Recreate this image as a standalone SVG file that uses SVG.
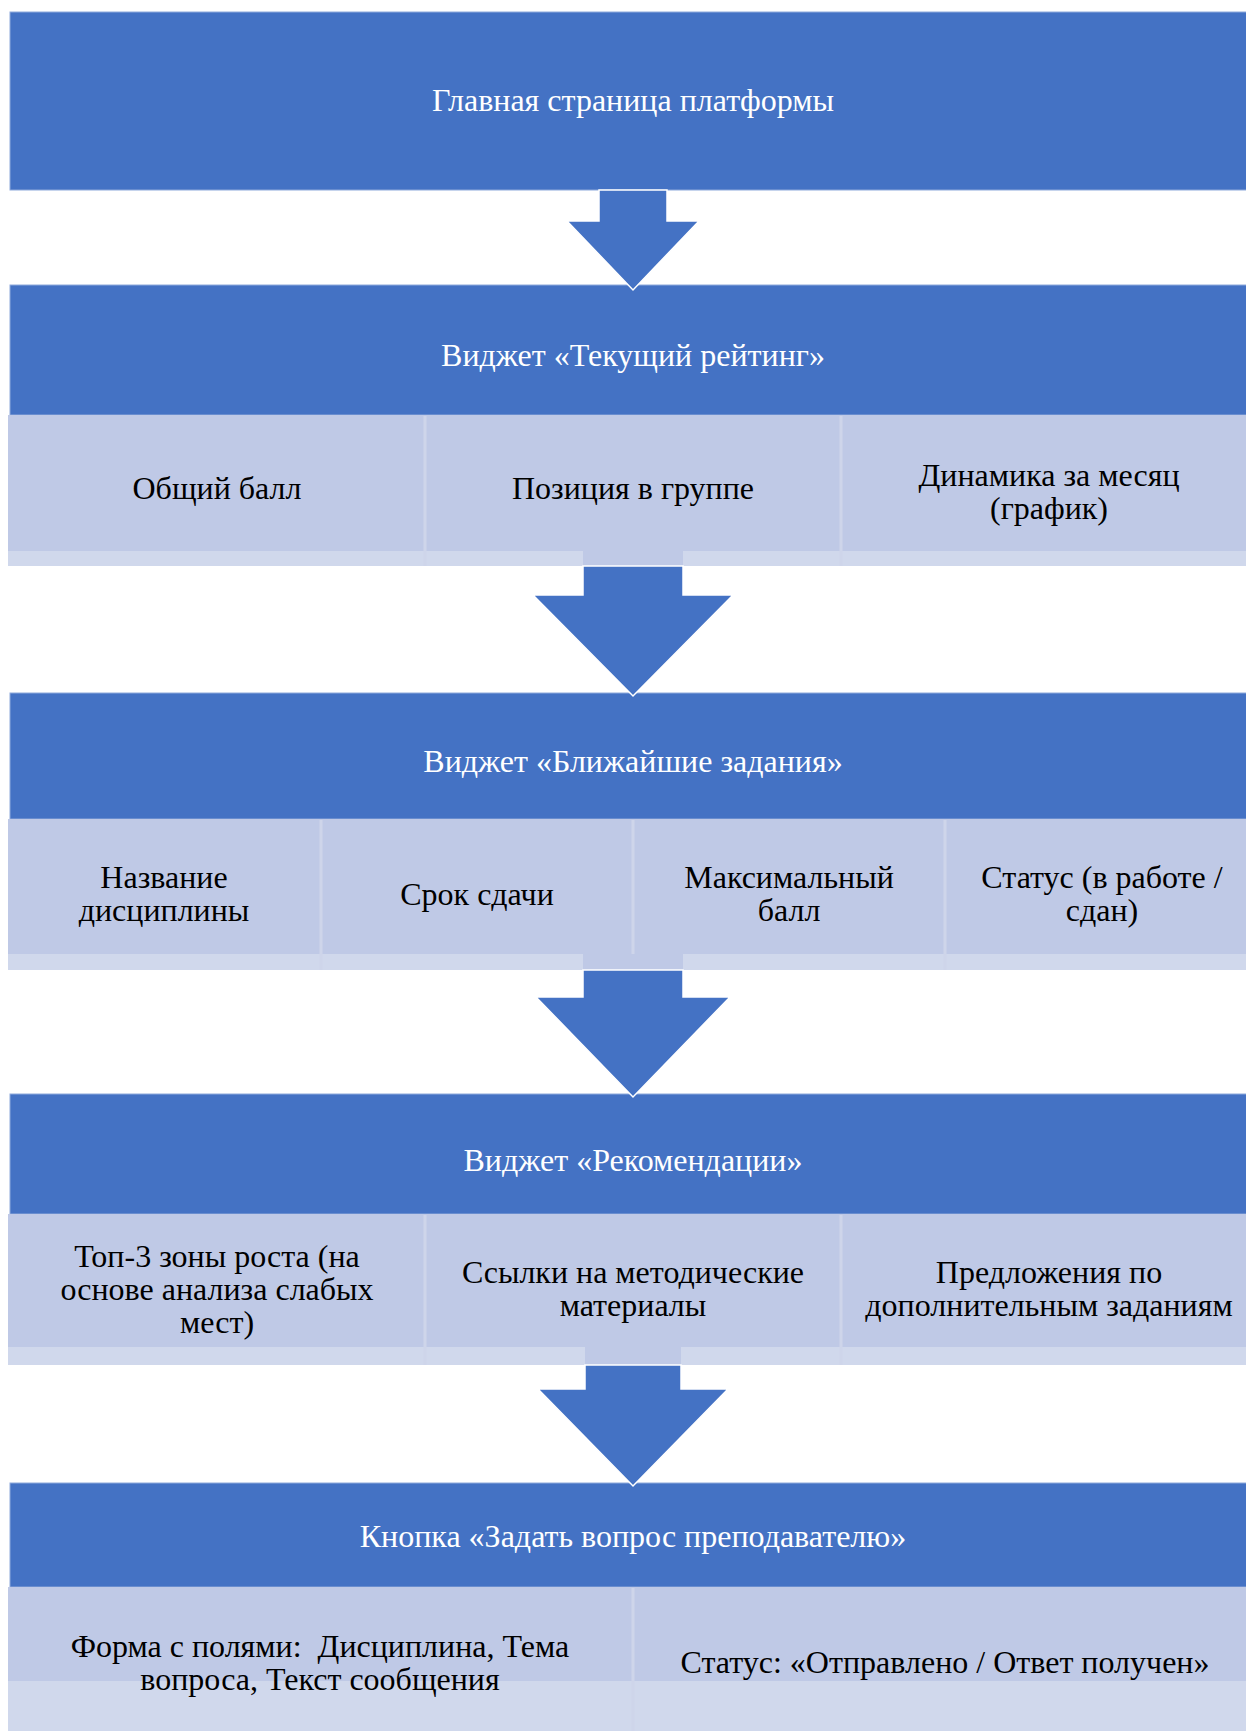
<svg xmlns="http://www.w3.org/2000/svg" width="1246" height="1731" viewBox="0 0 1246 1731">
<style>
.hdr{fill:#4472C4;stroke:#8EA9DB;stroke-width:1}
.cell{fill:#BFC9E6}
.strip{fill:#D0D8EC}
.div{stroke:#CED5EA;stroke-width:3}
.arr{fill:#4472C4;stroke:#FFFFFF;stroke-width:1.5}
.ht{font-family:"Liberation Serif","Times New Roman",serif;font-size:32px;fill:#FFFFFF;text-anchor:middle}
.ct{font-family:"Liberation Serif","Times New Roman",serif;font-size:32px;fill:#000000;text-anchor:middle}
</style>
<rect width="1246" height="1731" fill="#FFFFFF"/>
<g id="main">
<rect class="hdr" x="10" y="12" width="1250" height="178"/>
<text class="ht" x="633" y="111">Главная страница платформы</text>
</g>
<g id="rating">
<rect class="hdr" x="10" y="285" width="1250" height="130"/>
<text class="ht" x="633" y="366">Виджет «Текущий рейтинг»</text>
<rect class="cell" x="8" y="415" width="1250" height="136"/>
<rect class="strip" x="8" y="551" width="1250" height="15"/>
<line class="div" x1="425" y1="416" x2="425" y2="566"/>
<line class="div" x1="841" y1="416" x2="841" y2="566"/>
<text class="ct" x="217" y="499">Общий балл</text>
<text class="ct" x="633" y="499">Позиция в группе</text>
<text class="ct" x="1049" y="486">Динамика за месяц</text>
<text class="ct" x="1049" y="519">(график)</text>
</g>
<g id="tasks">
<rect class="hdr" x="10" y="693" width="1250" height="126"/>
<text class="ht" x="633" y="772">Виджет «Ближайшие задания»</text>
<rect class="cell" x="8" y="819" width="1250" height="135"/>
<rect class="strip" x="8" y="954" width="1250" height="16"/>
<line class="div" x1="321" y1="820" x2="321" y2="970"/>
<line class="div" x1="633" y1="820" x2="633" y2="970"/>
<line class="div" x1="945" y1="820" x2="945" y2="970"/>
<text class="ct" x="164" y="888">Название</text>
<text class="ct" x="164" y="921">дисциплины</text>
<text class="ct" x="477" y="905">Срок сдачи</text>
<text class="ct" x="789" y="888">Максимальный</text>
<text class="ct" x="789" y="921">балл</text>
<text class="ct" x="1102" y="888">Статус (в работе /</text>
<text class="ct" x="1102" y="921">сдан)</text>
</g>
<g id="recs">
<rect class="hdr" x="10" y="1094" width="1250" height="120"/>
<text class="ht" x="633" y="1171">Виджет «Рекомендации»</text>
<rect class="cell" x="8" y="1214" width="1250" height="133"/>
<rect class="strip" x="8" y="1347" width="1250" height="18"/>
<line class="div" x1="425" y1="1215" x2="425" y2="1365"/>
<line class="div" x1="841" y1="1215" x2="841" y2="1365"/>
<text class="ct" x="217" y="1267">Топ-3 зоны роста (на</text>
<text class="ct" x="217" y="1300">основе анализа слабых</text>
<text class="ct" x="217" y="1333">мест)</text>
<text class="ct" x="633" y="1283">Ссылки на методические</text>
<text class="ct" x="633" y="1316">материалы</text>
<text class="ct" x="1049" y="1283">Предложения по</text>
<text class="ct" x="1049" y="1316">дополнительным заданиям</text>
</g>
<g id="ask">
<rect class="hdr" x="10" y="1483" width="1250" height="104"/>
<text class="ht" x="633" y="1547">Кнопка «Задать вопрос преподавателю»</text>
<rect class="cell" x="8" y="1587" width="1250" height="94"/>
<rect class="strip" x="8" y="1681" width="1250" height="60"/>
<line class="div" x1="633" y1="1588" x2="633" y2="1731"/>
<text class="ct" x="320" y="1657">Форма с полями:&#160; Дисциплина, Тема</text>
<text class="ct" x="320" y="1690">вопроса, Текст сообщения</text>
<text class="ct" x="945" y="1673">Статус: «Отправлено / Ответ получен»</text>
</g>
<g id="connectors">
<polygon class="arr" points="599,190 667,190 667,221 699,221 633,290 567,221 599,221"/>
<rect class="cell" x="583" y="551" width="100" height="15"/>
<polygon class="arr" points="583,566 683,566 683,595 733,595 633,696 533,595 583,595"/>
<rect class="cell" x="583" y="954" width="100" height="16"/>
<polygon class="arr" points="583,970 683,970 683,997 730,997 633,1097 536,997 583,997"/>
<rect class="cell" x="585" y="1347" width="96" height="18"/>
<polygon class="arr" points="585,1365 681,1365 681,1389 728,1389 633,1486 538,1389 585,1389"/>
</g>
</svg>
